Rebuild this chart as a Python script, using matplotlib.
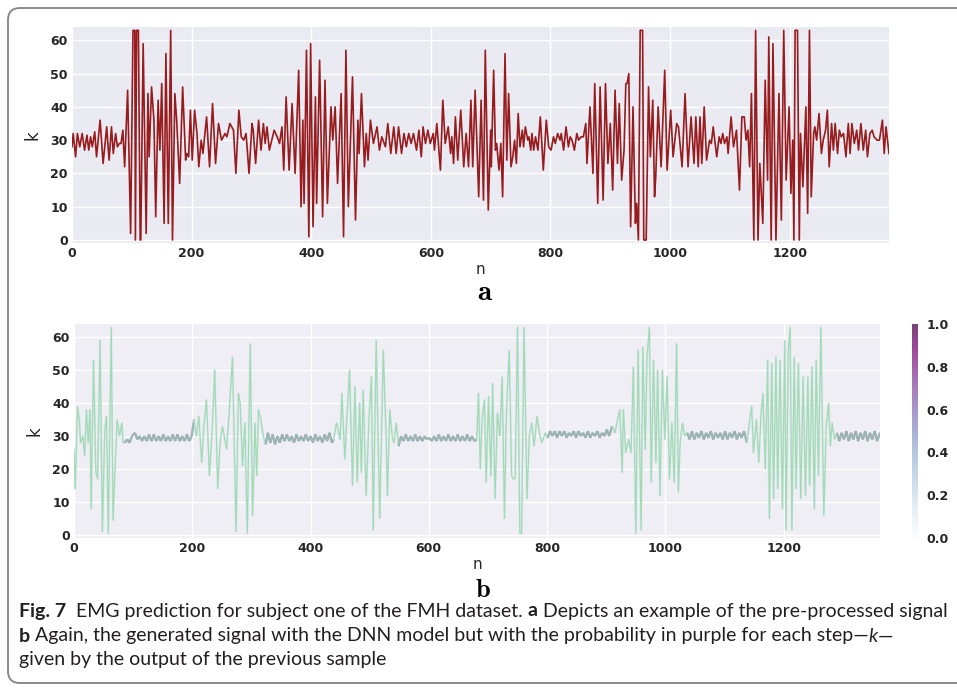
import numpy as np
import matplotlib
matplotlib.use("Agg")
import matplotlib.pyplot as plt
from matplotlib.patches import FancyBboxPatch
from matplotlib.collections import LineCollection

# ---- data (vertices of the drawn polylines) ----
# panel a: pre-processed signal
sig_a_n = [0, 2, 6, 9, 13, 17, 21, 25, 28, 31, 34, 38, 41, 47, 52, 58, 62, 66, 69, 73, 76, 79, 82, 85, 88,
           93, 98, 102, 105, 106, 108, 111, 114, 115, 119, 124, 127, 129, 133, 137, 140, 144, 147, 150, 154,
           157, 161, 165, 168, 172, 175, 180, 185, 190, 192, 195, 198, 201, 205, 209, 212, 216, 219, 225, 230,
           235, 240, 245, 250, 256, 259, 264, 270, 274, 279, 283, 287, 291, 296, 301, 303, 307, 312, 316, 320,
           323, 326, 330, 334, 338, 343, 347, 351, 354, 358, 363, 368, 373, 379, 383, 386, 388, 392, 396, 399,
           403, 407, 409, 414, 419, 423, 427, 433, 436, 440, 444, 450, 454, 458, 462, 469, 474, 478, 480, 484,
           489, 492, 495, 499, 504, 510, 514, 518, 524, 528, 533, 538, 542, 546, 551, 555, 559, 563, 567, 571,
           576, 580, 584, 587, 591, 595, 599, 604, 606, 610, 616, 620, 624, 629, 633, 635, 638, 641, 645, 650,
           655, 659, 663, 667, 670, 674, 680, 684, 688, 691, 696, 700, 701, 705, 708, 710, 714, 717, 720, 724,
           727, 730, 734, 737, 740, 743, 746, 749, 753, 755, 758, 762, 764, 767, 769, 772, 775, 779, 783, 788,
           793, 797, 801, 805, 808, 812, 816, 818, 822, 826, 830, 833, 836, 840, 844, 847, 851, 855, 859, 861,
           866, 871, 874, 879, 883, 888, 892, 896, 900, 904, 908, 912, 915, 919, 923, 926, 928, 931, 934, 938,
           942, 944, 947, 950, 954, 956, 960, 964, 967, 971, 974, 976, 980, 985, 991, 995, 1001, 1005, 1011,
           1014, 1020, 1025, 1030, 1035, 1040, 1043, 1047, 1050, 1053, 1057, 1061, 1066, 1069, 1072, 1078,
           1082, 1085, 1088, 1091, 1095, 1097, 1102, 1106, 1111, 1116, 1120, 1124, 1127, 1130, 1133, 1136,
           1140, 1143, 1147, 1150, 1155, 1159, 1163, 1165, 1169, 1172, 1177, 1182, 1186, 1190, 1194, 1199,
           1202, 1205, 1207, 1209, 1213, 1216, 1218, 1222, 1227, 1230, 1233, 1236, 1240, 1242, 1245, 1249,
           1253, 1256, 1260, 1263, 1266, 1270, 1273, 1276, 1280, 1283, 1286, 1290, 1294, 1298, 1301, 1304,
           1308, 1312, 1315, 1319, 1323, 1327, 1330, 1334, 1338, 1341, 1346, 1350, 1355, 1358, 1361, 1366]
sig_a_k = [28, 32, 25, 32, 28, 32, 27, 31.5, 27, 31, 28, 32.5, 25, 36, 23, 34, 24, 34, 26, 32, 28, 29, 29, 33, 22,
           45, 2, 63, 63, 0, 63, 63, 0, 0, 59, 2, 44, 25, 46, 36, 7, 42, 27, 47, 5,
           56, 5, 63, 0, 44, 36, 17, 46, 24, 26, 25, 39, 24, 39, 32, 22, 30, 26, 37, 22,
           41, 23, 35, 30, 32, 31, 35, 33, 20, 39, 31, 30, 32, 20, 35, 33, 23, 36, 27, 35,
           29, 34, 27, 30, 33, 31, 29, 34, 21, 43, 21, 41, 20, 51, 10, 36, 11, 57, 1, 59,
           4, 43, 11, 54, 7, 48, 11, 40, 30, 40, 17, 44, 1, 57, 10, 49, 6, 36, 26, 44,
           22, 32, 24, 36, 29, 34, 27, 31, 28, 35, 26, 34, 26, 34, 26, 32, 28, 32, 29, 32,
           27, 33, 25, 34, 29, 33, 29, 32, 27, 35, 21, 42, 29, 34, 26, 31, 23, 37, 24, 39,
           22, 32, 22, 42, 22, 45, 13, 42, 12, 57, 9, 33, 22, 51, 27, 29, 21, 29, 13, 56,
           24, 44, 22, 25, 30, 23, 38, 28, 33, 28, 34, 30, 31, 27, 32, 27, 31, 27, 37, 21,
           36, 28, 27, 31, 29, 32, 30, 32, 27, 34, 28, 31, 30, 27, 32, 30, 31, 31, 35, 23,
           40, 20, 47, 11, 46, 12, 47, 23, 35, 15, 45, 23, 41, 18, 27, 47, 47, 50, 4, 40,
           5, 11, 0, 63, 63, 0, 0, 46, 25, 42, 13, 19, 40, 22, 51, 21, 39, 25, 35,
           34, 22, 44, 22, 37, 23, 37, 22, 37, 23, 40, 24, 30, 29, 34, 25,
           31, 29, 32, 29, 31, 26, 37, 28, 33, 15, 37, 37, 30, 33, 22, 44,
           0, 63, 0, 23, 5, 48, 18, 61, 0, 59, 0, 44, 6, 63, 18, 40,
           14, 30, 0, 63, 63, 0, 32, 16, 40, 8, 63, 13, 32, 34, 30, 38,
           26, 30, 33, 39, 22, 35, 27, 35, 26, 33, 31, 32, 25, 35, 26, 35,
           29, 33, 27, 35, 27, 33, 25, 32, 33, 31, 30, 30, 36, 26, 34, 26]

# panel b: generated signal
sig_b_n = [0, 2, 6, 9, 11, 15, 18, 21, 24, 27, 29, 33, 37, 40, 44, 48, 52, 55, 58, 63, 66, 69, 73, 77, 81, 83,
           86, 90, 94, 98, 103, 107, 111, 115, 119, 123, 127, 131, 135, 139, 143, 147, 151, 155, 159, 163,
           167, 171, 175, 179, 183, 187, 191, 195, 199,
           203, 207, 211, 216, 220, 224, 229, 234, 238, 243, 247, 251, 258, 262, 268, 274, 278, 281, 285, 289,
           293, 298, 302, 306, 309, 312, 316, 320,
           324, 328, 332, 336, 340, 344, 348, 352, 356, 360, 364, 368, 372, 376, 380, 384, 388, 392, 396, 400,
           404, 408, 412, 416, 420, 424, 428, 432, 436,
           439, 444, 450, 453, 458, 461, 466, 471, 475, 479, 483, 486, 489, 494, 499, 503, 506, 511, 515, 517,
           523, 528, 530, 534, 538, 541, 545,
           549, 553, 557, 561, 565, 569, 573, 577, 581, 585, 589, 593, 597, 601, 605, 609, 613, 617, 621, 625,
           629, 633, 637, 641, 645, 649, 653, 657, 661, 665, 669, 673, 677,
           681, 684, 687, 690, 694, 697, 701, 705, 708, 712, 716, 720, 724, 728, 731, 736, 740, 743, 746, 750,
           754, 757, 761, 766, 770, 774, 778, 783, 787, 791, 797,
           801, 805, 809, 813, 817, 821, 825, 829, 833, 837, 841, 845, 849, 853, 857, 861, 865, 869, 873, 877,
           881, 885, 889, 893, 897, 901, 905,
           910, 915, 918, 923, 927, 929, 933, 938, 942, 946, 950, 954, 959, 962, 966, 969, 973, 976, 980, 984,
           987, 991, 995, 999, 1003, 1007, 1011, 1015, 1019, 1022, 1025, 1029, 1033,
           1037, 1041, 1045, 1049, 1053, 1057, 1061, 1065, 1069, 1073, 1077, 1081, 1085, 1089, 1093, 1097,
           1101, 1105, 1109, 1113, 1117, 1121, 1125, 1129, 1133,
           1138, 1142, 1146, 1149, 1154, 1158, 1162, 1165, 1169, 1173, 1176, 1180, 1183, 1187, 1190, 1194,
           1198, 1202, 1204, 1208, 1211, 1214, 1218, 1221, 1225, 1229, 1233, 1237, 1241, 1244, 1248, 1252,
           1255, 1259, 1263, 1268, 1272, 1276, 1279, 1282, 1286,
           1290, 1294, 1298, 1302, 1306, 1310, 1314, 1318, 1322, 1326, 1330, 1334, 1338, 1342, 1346, 1350,
           1354, 1358, 1363]
sig_b_k = [26, 14, 39, 35, 28, 30, 24, 38, 28, 38, 8, 53, 19, 17, 59, 1, 32, 36, 0.5, 63, 4.5, 18, 35, 30, 34, 28,
           28, 29, 28, 30, 31, 29, 30, 28.5, 30, 28.5, 30.5, 28.5, 30.5, 28.5, 30, 28.5, 30.5, 28.5, 30, 28.5,
           30.5, 28.5, 30.5, 28.5, 30, 28.5, 30.5, 28.5, 30,
           35, 30, 36, 22, 34, 41, 18, 33, 50, 14, 28, 33, 26, 36, 54, 1, 43, 40, 21, 34,
           0.5, 58, 6, 34, 18, 38, 35, 30,
           27.5, 31, 28, 30.5, 27.5, 30, 28, 30.5, 28.5, 30.5, 28.5, 30, 28, 30.5, 28.5, 30, 28.5, 30.5, 28.5, 30,
           28, 30.5, 28.5, 30, 28, 30.5, 28.5, 31, 28,
           29, 34, 29, 43, 23, 34, 50, 15, 45, 16, 40, 19, 44, 12, 36, 48, 1.5, 59, 22, 5,
           56, 29, 12, 38, 30, 28, 34,
           27, 30, 28.5, 30.5, 28.5, 30, 28.5, 30.5, 28.5, 30, 28.5, 30, 29, 29.5, 28.5, 30, 28.5, 30.5, 28.5, 30,
           28.5, 30.5, 28.5, 30, 28.5, 30.5, 28.5, 30, 28.5, 30.5, 28.5, 30, 28.5,
           29, 43, 20, 35, 41, 16, 42, 18, 46, 11, 37, 30, 48, 5, 36, 56, 18, 17, 17, 63,
           0.5, 0.5, 63, 11, 30, 34, 27, 36, 31, 28, 31,
           29.5, 31.5, 30, 31.5, 29.5, 31.5, 30, 31.5, 29.5, 31, 30, 31.5, 29.5, 31.5, 30, 31, 29.5, 31.5, 29.5, 31,
           30, 31.5, 29.5, 31, 30, 32, 30,
           33, 31, 34, 38, 19, 38, 25, 29, 25, 51, 0.5, 56, 1.5, 57, 26, 54, 63, 16, 53, 22,
           50, 12, 50, 29, 48, 17, 34, 16, 58, 13, 28, 34, 30,
           31, 29, 31.5, 29, 31, 29.5, 31.5, 29, 31, 29.5, 31.5, 29, 31, 29.5, 31, 29,
           31.5, 29, 31, 29.5, 31.5, 29, 31, 29.5, 31.5,
           28, 34, 39, 25, 35, 22, 37, 43, 20, 53, 5, 52, 11, 54, 14, 53,
           8, 59, 1.5, 56, 63, 1.5, 54, 14, 52, 11, 48, 12, 48, 15, 51, 8,
           53, 18, 63, 6, 33, 40, 27, 34, 29,
           31, 28.5, 31, 29, 31.5, 28.5, 31, 29, 31.5, 28.5, 31, 29, 31.5, 28.5, 31, 29,
           31.5, 28.5, 31]

# probability of each step (spans of n with the read level)
prob_start = [0, 85, 203, 322, 439, 548, 681, 799, 910, 1035, 1138, 1288]
prob_level = [0.15, 0.6, 0.15, 0.6, 0.15, 0.6, 0.15, 0.6, 0.15, 0.6, 0.15, 0.6]

top_ticks = [0, 200, 400, 600, 800, 1000, 1200]
k_ticks = [0, 10, 20, 30, 40, 50, 60]
cbar_ticks = [0.0, 0.2, 0.4, 0.6, 0.8, 1.0]

caption_lines = [
    [("Fig. 7", "bold", "normal"), ("  EMG prediction for subject one of the FMH dataset. ", "normal", "normal"),
     ("a", "bold", "normal"), (" Depicts an example of the pre-processed signal", "normal", "normal")],
    [("b", "bold", "normal"), (" Again, the generated signal with the DNN model but with the probability in purple for each step\u2014", "normal", "normal"),
     ("k", "normal", "italic"), ("\u2014", "normal", "normal")],
    [("given by the output of the previous sample", "normal", "normal")],
]

W, H = 957, 688
fig = plt.figure(figsize=(W / 100, H / 100), dpi=100)
fig.patch.set_facecolor("white")


def px_axes(l, t, r, b):
    return fig.add_axes([l / W, 1 - b / H, (r - l) / W, (b - t) / H])


def style(ax, bg):
    ax.set_facecolor(bg)
    for s in ax.spines.values():
        s.set_visible(False)
    ax.grid(True, color="white", lw=1.0)
    ax.set_axisbelow(True)
    ax.tick_params(length=0, labelsize=9, colors="#262626", pad=3)
    for lab in ax.get_xticklabels() + ax.get_yticklabels():
        lab.set_fontweight("bold")
    ax.set_ylabel("k", fontsize=12, color="#262626", labelpad=6)
    ax.set_xlabel("n", fontsize=11, color="#262626", labelpad=1)


# ---- panel a ----
ax1 = px_axes(72, 27, 889, 243)
ax1.plot(sig_a_n, sig_a_k, color="#981b1e", lw=1.2)
ax1.set_xlim(0, 1366)
ax1.set_ylim(-0.9, 64)
ax1.set_xticks(top_ticks)
ax1.set_yticks(k_ticks)
style(ax1, "#eaeaf2")
fig.text(485 / W, 1 - 292 / H, r"$\mathbf{a}$", math_fontfamily="cm", fontsize=21,
         ha="center", va="center")

# ---- panel b ----
ax2 = px_axes(74, 324, 880, 538)
n_b = np.array(sig_b_n, dtype=float)
k_b = np.array(sig_b_k, dtype=float)
idx = np.searchsorted(prob_start, n_b, side="right") - 1
p_b = np.array(prob_level)[idx]
pts = np.column_stack([n_b, k_b]).reshape(-1, 1, 2)
segs = np.concatenate([pts[:-1], pts[1:]], axis=1)
cmap = plt.get_cmap("BuPu")
lc = LineCollection(segs, cmap=cmap, norm=plt.Normalize(0, 1), lw=1.6, alpha=0.75)
lc.set_array(p_b[:-1])
ax2.add_collection(lc)
ax2.plot(n_b, k_b, color="#8fd6a0", lw=0.9, alpha=0.75)
ax2.set_xlim(0, 1363)
ax2.set_ylim(-0.9, 64)
ax2.set_xticks(top_ticks)
ax2.set_yticks(k_ticks)
style(ax2, "#eeeef4")
fig.text(483 / W, 1 - 590 / H, r"$\mathbf{b}$", math_fontfamily="cm", fontsize=19,
         ha="center", va="center")

# colorbar
cax = px_axes(912, 324, 918, 538)
sm = plt.cm.ScalarMappable(cmap=cmap, norm=plt.Normalize(0, 1))
cb = fig.colorbar(sm, cax=cax, ticks=cbar_ticks)
cb.solids.set_alpha(0.75)
cb.outline.set_visible(False)
cax.tick_params(length=0, labelsize=9, colors="#262626", pad=6)
for lab in cax.get_yticklabels():
    lab.set_fontweight("bold")

# ---- caption ----
renderer = fig.canvas.get_renderer()
cap_font = "Lato"


def draw_runs(runs, x0, yy, size):
    x = x0
    for txt, wt, st in runs:
        t = fig.text(x / W, 1 - yy / H, txt, fontsize=size, family=cap_font,
                     fontweight=wt, fontstyle=st, ha="left", va="center", color="#231f20")
        x += t.get_window_extent(renderer).width
    return x


# size the caption so the first line spans the same width as in the source
probe = draw_runs(caption_lines[0], 0, -100, 10) - 0
cap_size = 10 * (947 - 19) / probe
for t in list(fig.texts):
    if t.get_position()[1] > 1:
        t.remove()
line_y = [611, 636, 660]
for runs, yy in zip(caption_lines, line_y):
    draw_runs(runs, 19, yy, cap_size)

# rounded frame around the figure (right side runs off the image)
frame = FancyBboxPatch((8, H - 683), 1100, 675, boxstyle="round,pad=0,rounding_size=12",
                       transform=None, fill=False, edgecolor="#8a8a8a", lw=1.4)
fig.patches.append(frame)

fig.savefig("out.png", dpi=100)
